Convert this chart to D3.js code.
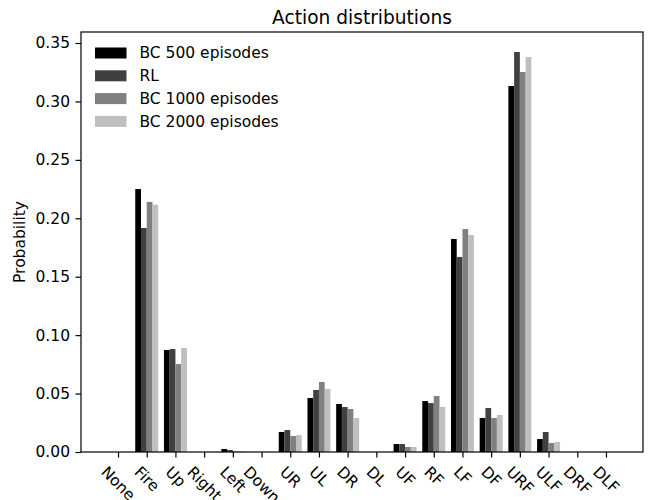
<!DOCTYPE html>
<html>
<head>
<meta charset="utf-8">
<script src="https://cdn.jsdelivr.net/npm/d3@7"></script>
<style>
  html, body { margin: 0; padding: 0; background: #fff; }
  svg { display: block; font-family: "DejaVu Sans", sans-serif; }
</style>
</head>
<body>
<svg id="chart" width="649" height="500"></svg>
<script>
// Action labels along the x axis
const actions = ["None", "Fire", "Up", "Right", "Left", "Down", "UR", "UL", "DR", "DL",
                 "UF", "RF", "LF", "DF", "URF", "ULF", "DRF", "DLF"];

// Series names and fills
const seriesNames = ["BC 500 episodes", "RL", "BC 1000 episodes", "BC 2000 episodes"];
const seriesColors = ["#000000", "#404040", "#808080", "#bfbfbf"];

// Probability of each action per policy
const bc500  = [0, 0.225, 0.0873, 0, 0.0026, 0, 0.0171, 0.0462, 0.0411, 0, 0.0068, 0.0436, 0.1823, 0.0291, 0.3132, 0.0111, 0, 0];
const rl     = [0, 0.1917, 0.0881, 0, 0.0017, 0, 0.0188, 0.0531, 0.0385, 0, 0.0068, 0.0419, 0.1669, 0.0377, 0.3423, 0.0171, 0, 0];
const bc1000 = [0, 0.214, 0.0753, 0, 0.0006, 0, 0.0137, 0.0599, 0.0368, 0, 0.0043, 0.0479, 0.1908, 0.0291, 0.3252, 0.0077, 0, 0];
const bc2000 = [0, 0.2116, 0.089, 0, 0.0004, 0, 0.0145, 0.0539, 0.0291, 0, 0.0043, 0.0385, 0.1857, 0.0317, 0.338, 0.0086, 0, 0];

const yTicks = [0, 0.05, 0.10, 0.15, 0.20, 0.25, 0.30, 0.35];

const series = [bc500, rl, bc1000, bc2000];

const svg = d3.select("#chart");
const fs = 15.5;           // tick / legend font size
const titleFs = 18.6;
const tickLen = 5.5, tickPad = 5.5;

const plot = { left: 81, right: 643, top: 32, bottom: 452 };
const barW = 0.2;

// x limits: bar extent plus 5% margins
const xMin = -2 * barW, xMax = actions.length - 1 + 2 * barW;
const xm = (xMax - xMin) * 0.05;
const x = d3.scaleLinear().domain([xMin - xm, xMax + xm]).range([plot.left, plot.right]);

const yMax = d3.max(series.flat()) * 1.05;
const y = d3.scaleLinear().domain([0, yMax]).range([plot.bottom, plot.top]);

// Bars
series.forEach((vals, k) => {
  svg.append("g")
    .attr("fill", seriesColors[k])
    .selectAll("rect")
    .data(vals)
    .join("rect")
    .attr("x", (d, i) => x(i + (k - 2) * barW))
    .attr("width", x(barW) - x(0))
    .attr("y", d => y(d))
    .attr("height", d => y(0) - y(d));
});

// Y axis
const yAxis = svg.append("g")
  .attr("transform", `translate(${plot.left},0)`)
  .call(d3.axisLeft(y).tickValues(yTicks).tickFormat(d3.format(".2f"))
        .tickSize(tickLen).tickPadding(tickPad));
yAxis.select(".domain").remove();
yAxis.selectAll(".tick line").attr("stroke", "#000").attr("stroke-width", 1.2);
yAxis.selectAll(".tick text").attr("font-size", fs).attr("font-family", "DejaVu Sans").attr("fill", "#000");

// X axis ticks
const xAxis = svg.append("g")
  .attr("transform", `translate(0,${plot.bottom})`)
  .call(d3.axisBottom(x).tickValues(d3.range(actions.length)).tickFormat("")
        .tickSize(tickLen).tickPadding(tickPad));
xAxis.select(".domain").remove();
xAxis.selectAll(".tick line").attr("stroke", "#000").attr("stroke-width", 1.2);

// Rotated x tick labels, bounding box centred under each tick
const labelTop = plot.bottom + tickLen + tickPad;
const lg = svg.append("g").attr("font-size", fs).attr("fill", "#000");
actions.forEach((name, i) => {
  const t = lg.append("text").attr("text-anchor", "middle").attr("dy", "0.32em").text(name);
  const w = t.node().getComputedTextLength();
  const h = fs * 1.164;
  const half = (w + h) / Math.SQRT2 / 2;
  t.attr("transform", `translate(${x(i)},${labelTop + half}) rotate(45)`);
});

// Frame
svg.append("rect")
  .attr("x", plot.left).attr("y", plot.top)
  .attr("width", plot.right - plot.left).attr("height", plot.bottom - plot.top)
  .attr("fill", "none").attr("stroke", "#000").attr("stroke-width", 1.2);

// Title
svg.append("text")
  .attr("x", (plot.left + plot.right) / 2).attr("y", plot.top - 8.5)
  .attr("text-anchor", "middle").attr("font-size", titleFs).attr("fill", "#000")
  .text("Action distributions");

// Y label
svg.append("text")
  .attr("transform", `translate(25,${(plot.top + plot.bottom) / 2}) rotate(-90)`)
  .attr("text-anchor", "middle").attr("font-size", fs).attr("fill", "#000")
  .text("Probability");

// Legend
const legend = svg.append("g").attr("transform", `translate(95,53)`);
seriesNames.forEach((name, k) => {
  const row = legend.append("g").attr("transform", `translate(0,${k * 22.8})`);
  row.append("rect").attr("x", 0).attr("y", -5.5).attr("width", 31.5).attr("height", 11)
    .attr("fill", seriesColors[k]);
  row.append("text").attr("x", 44.5).attr("dy", "0.35em")
    .attr("font-size", fs).attr("fill", "#000").text(name);
});
</script>
</body>
</html>
